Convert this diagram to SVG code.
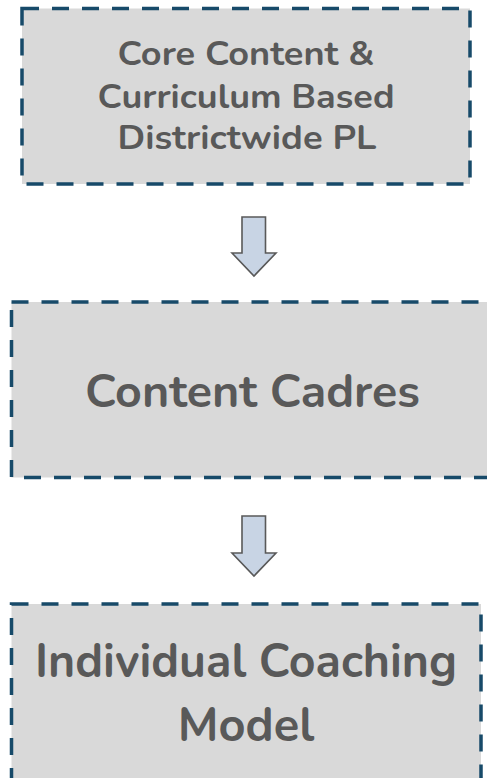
<svg xmlns="http://www.w3.org/2000/svg" width="487" height="778" viewBox="0 0 487 778">
  <defs>
    <style>
      .box { fill: #d9d9d9; stroke: #174a69; stroke-width: 3.5; stroke-dasharray: 17 13; }
      .label { font-family: "Nunito", "Lato", "Open Sans", sans-serif; font-weight: 700; fill: #595959; text-anchor: middle; }
      .arrow { fill: #c8d4e4; stroke: #595959; stroke-width: 1.6; stroke-linejoin: miter; }
    </style>
  </defs>
  <rect width="487" height="778" fill="#ffffff"/>

  <g id="node-core-content">
    <rect class="box" x="22" y="8.5" width="448" height="175.5"/>
    <text class="label" font-size="33" x="246" y="65" textLength="257" lengthAdjust="spacingAndGlyphs">Core Content &amp;</text>
    <text class="label" font-size="33" x="246" y="108" textLength="297" lengthAdjust="spacingAndGlyphs">Curriculum Based</text>
    <text class="label" font-size="33" x="247" y="149" textLength="259" lengthAdjust="spacingAndGlyphs">Districtwide PL</text>
  </g>

  <g id="node-content-cadres">
    <rect class="box" x="11.5" y="302" width="482" height="175.5"/>
    <text class="label" font-size="46" x="252.5" y="407" textLength="335" lengthAdjust="spacingAndGlyphs">Content Cadres</text>
  </g>

  <g id="node-individual-coaching">
    <rect class="box" x="11.5" y="604" width="469.5" height="176"/>
    <text class="label" font-size="47" x="246" y="677" textLength="422" lengthAdjust="spacingAndGlyphs">Individual Coaching</text>
    <text class="label" font-size="47" x="246" y="741">Model</text>
  </g>

  <g id="connectors">
    <path class="arrow" d="M242 217 H265.5 V253 H276 L254 276 L232 253 H242 Z"/>
    <path class="arrow" d="M242 516 H265.5 V553 H276 L254 576 L232 553 H242 Z"/>
  </g>
</svg>
